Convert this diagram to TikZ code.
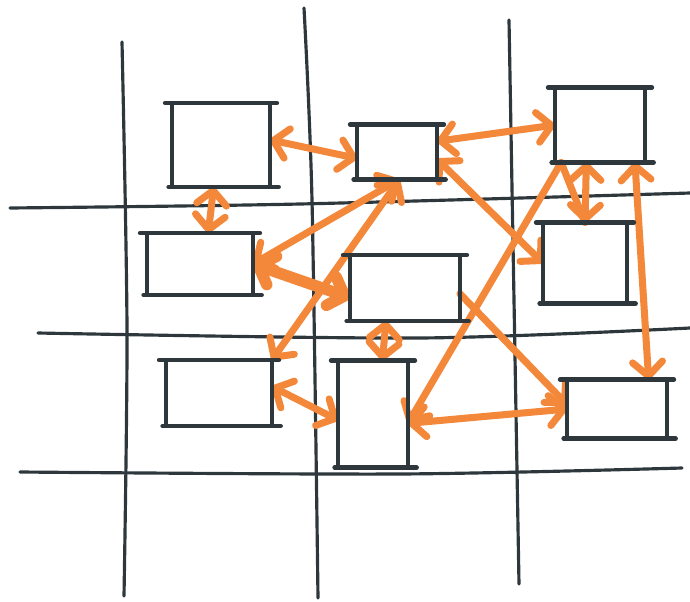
\documentclass[tikz,border=0pt]{standalone}
\usetikzlibrary{arrows.meta}
\definecolor{sketchink}{HTML}{2D373C}
\definecolor{sketchorange}{HTML}{F3883A}

\begin{document}
\begin{tikzpicture}[
  x=0.02cm,
  y=-0.02cm,
  barb/.tip={Straight Barb[length=8pt, width=17pt, round]},
  grid/.style={sketchink, line width=1.8pt, line cap=round},
  frame/.style={sketchink, line width=2.4pt, line cap=round, line join=round},
  slot/.style 2 args={minimum width=#1, minimum height=#2,
                      inner sep=0pt, outer sep=0pt},
  link/.style={sketchorange, line width=4pt, line cap=round, barb-barb},
  oneway/.style={sketchorange, line width=4pt, line cap=round, -barb},
  trace/.style={sketchorange, line width=4pt, line cap=round},
  heavy/.style={link, line width=6.5pt}
]
  % ---- page frame, same proportions as the sketch ----
  \useasboundingbox (0,0) rectangle (690,602);

  % ---- hand drawn grid ----
  \draw[grid] plot[smooth] coordinates {(122,42) (127,330) (124,596)};
  \draw[grid] plot[smooth] coordinates {(304,8) (312,200) (318,598)};
  \draw[grid] plot[smooth] coordinates {(509,20) (514,300) (519,584)};
  \draw[grid] plot[smooth] coordinates {(10,208) (300,204) (690,193)};
  \draw[grid] plot[smooth] coordinates {(38,333) (420,338) (690,328)};
  \draw[grid] plot[smooth] coordinates {(20,472) (400,474) (682,468)};

  % ---- the nine boxes (outlines drawn last) ----
  \node[slot={1.96cm}{1.68cm}] (tl) at (221,145) {};
  \node[slot={1.6cm}{1.1cm}]   (tc) at (397,152) {};
  \node[slot={1.8cm}{1.5cm}]   (tr) at (600,125) {};
  \node[slot={2.12cm}{1.24cm}] (ml) at (200,264) {};
  \node[slot={2.2cm}{1.32cm}]  (mc) at (405,288) {};
  \node[slot={1.68cm}{1.62cm}] (mr) at (585,263) {};
  \node[slot={2.12cm}{1.32cm}] (bl) at (219,393) {};
  \node[slot={1.4cm}{2.14cm}]  (bc) at (373,414) {};
  \node[slot={2cm}{1.18cm}]    (br) at (617,409) {};

  % ---- orange links ----
  \draw[link] (tl.6) -- (tc.-171);
  \draw[link] (tc.15) -- (tr.west);
  \draw[link] (tl.-100) -- (ml.75);
  \draw[link] (tc.-85) -- (ml.east);
  \draw[link] (tc.-85) -- (bl.north east);
  \draw[heavy] (ml.east) -- (mc.-170);
  \draw[link] (tc.-10) -- (mr.west);
  \draw[link] (tr.-110) -- (mr.north);
  \draw[trace] (tr.-136) -- (mr.north);
  \draw[oneway] (tr.-136) -- (bc.-15);
  \draw[link] (tr.-47) -- (br.43);
  \draw[link] (mc.-120) -- (bc.80);
  \draw[oneway] (mc.-6) -- (br.175);
  \draw[link] (bl.7) -- (bc.-170);
  \draw[link] (bc.-15) -- (br.west);

  % ---- box outlines, top and bottom strokes run past the corners ----
  \foreach \n in {tl,tc,tr,ml,mc,mr,bl,bc,br} {
    \draw[frame] (\n.north west) rectangle (\n.south east);
    \draw[frame] ([xshift=-4pt]\n.north west) -- ([xshift=4pt]\n.north east)
                 ([xshift=-2pt]\n.south west) -- ([xshift=5pt]\n.south east);
  }
\end{tikzpicture}
\end{document}
